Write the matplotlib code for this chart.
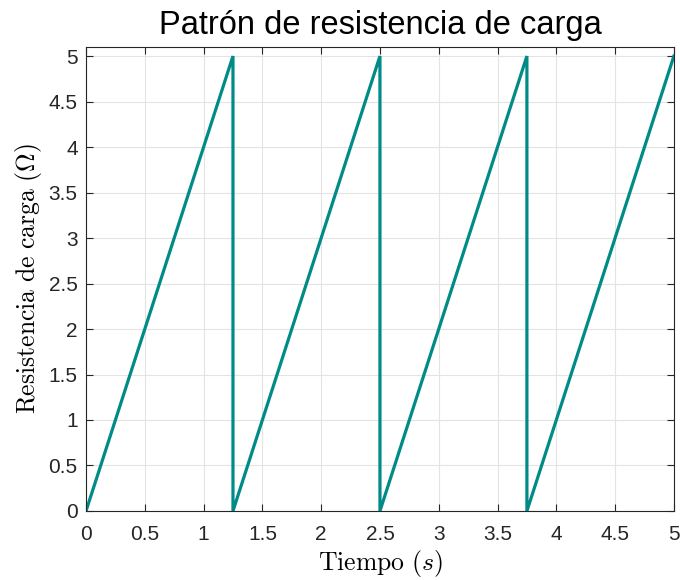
import matplotlib
matplotlib.use("Agg")
import matplotlib.pyplot as plt

# Load resistance pattern (sawtooth, period 1.25 s)
tiempo = [0.0, 1.25, 1.25, 2.5, 2.5, 3.75, 3.75, 5.0]
resistencia = [0.0, 5.0, 0.0, 5.0, 0.0, 5.0, 0.0, 5.0]
xticks = [0, 0.5, 1, 1.5, 2, 2.5, 3, 3.5, 4, 4.5, 5]
yticks = [0, 0.5, 1, 1.5, 2, 2.5, 3, 3.5, 4, 4.5, 5]

plt.rcParams['mathtext.fontset'] = 'cm'
plt.rcParams['font.family'] = ['Liberation Sans', 'DejaVu Sans']

fig = plt.figure(figsize=(6.8, 5.8), dpi=100)
ax = fig.add_axes([0.1265, 0.119, 0.8645, 0.8])

ax.plot(tiempo, resistencia, color='#008b87', linewidth=2.3, solid_joinstyle='miter')

ax.set_xlim(0, 5)
ax.set_ylim(0, 5.1)
ax.set_xticks(xticks)
ax.set_yticks(yticks)
ax.set_xticklabels([f'{v:g}' for v in xticks])
ax.set_yticklabels([f'{v:g}' for v in yticks])

ax.grid(True, color='#e3e3e3', linewidth=0.8)
ax.set_axisbelow(True)
ax.tick_params(direction='in', top=True, right=True, length=5, width=0.8,
               colors='#262626', labelsize=15)
ax.tick_params(axis='x', pad=10)
ax.tick_params(axis='y', pad=6)
for s in ax.spines.values():
    s.set_color('#262626')
    s.set_linewidth(0.8)

ax.set_title('Patrón de resistencia de carga', fontsize=23.5, pad=9)
ax.set_xlabel(r'$\mathrm{Tiempo}\ (s)$', fontsize=18.5, labelpad=3)
ax.set_ylabel(r'$\mathrm{Resistencia\ de\ carga}\ (\Omega)$', fontsize=18.5, labelpad=3)

fig.savefig('out.png', dpi=100)
